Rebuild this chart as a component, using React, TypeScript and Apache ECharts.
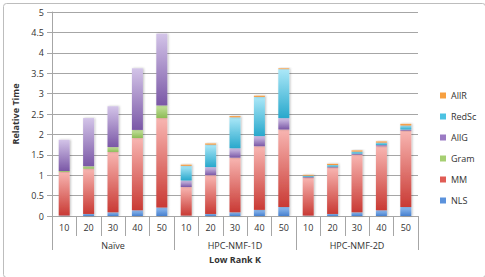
import React, { useEffect, useRef } from "react";
import * as echarts from "echarts";

const categories = ["10", "20", "30", "40", "50", "10", "20", "30", "40", "50", "10", "20", "30", "40", "50"];
const groups = ["Naïve", "HPC-NMF-1D", "HPC-NMF-2D"];
const yTicks = [0, 0.5, 1, 1.5, 2, 2.5, 3, 3.5, 4, 4.5, 5];

const nls = [0.01, 0.05, 0.09, 0.14, 0.21, 0.01, 0.05, 0.09, 0.15, 0.22, 0.01, 0.05, 0.09, 0.14, 0.22];
const mm = [1.07, 1.11, 1.48, 1.77, 2.19, 0.7, 0.95, 1.34, 1.56, 1.9, 0.93, 1.14, 1.41, 1.57, 1.87];
const gram = [0.02, 0.06, 0.12, 0.2, 0.31, 0, 0, 0, 0, 0, 0, 0, 0, 0, 0];
const allG = [0.77, 1.18, 1.0, 1.51, 1.76, 0.16, 0.2, 0.23, 0.25, 0.28, 0.02, 0.02, 0.03, 0.03, 0.03];
const redSc = [0, 0, 0, 0, 0, 0.36, 0.55, 0.76, 0.96, 1.2, 0.03, 0.04, 0.05, 0.06, 0.1];
const allR = [0, 0, 0, 0, 0, 0.03, 0.03, 0.03, 0.03, 0.02, 0.02, 0.03, 0.03, 0.03, 0.04];

const FONT = "Open Sans";
const TXT = "#333333";
const AXIS = "#a6a6a6";

const seriesDefs = [
  { name: "NLS", data: nls, top: "#93bdf0", bottom: "#4680cf", solid: "#5b92dc" },
  { name: "MM", data: mm, top: "#f8b6b2", bottom: "#c93a34", solid: "#e05c55" },
  { name: "Gram", data: gram, top: "#c6e29e", bottom: "#8cbb55", solid: "#a6cf72" },
  { name: "AllG", data: allG, top: "#d3c4e8", bottom: "#7a57a6", solid: "#9b7bc4" },
  { name: "RedSc", data: redSc, top: "#ace8f8", bottom: "#28a8cc", solid: "#4cc2e2" },
  { name: "AllR", data: allR, top: "#fbb060", bottom: "#f08a2a", solid: "#f7a040" },
];

export default function App() {
  const ref = useRef<HTMLDivElement>(null);
  useEffect(() => {
    if (!ref.current) return;
    const chart = echarts.init(ref.current, null, { renderer: "svg" });
    chart.setOption({
      animation: false,
      backgroundColor: "#ffffff",
      textStyle: { fontFamily: FONT },
      grid: { left: 52, right: 67, top: 12, bottom: 61, containLabel: false },
      legend: {
        orient: "vertical",
        left: 435,
        top: 86,
        itemWidth: 6,
        itemHeight: 6,
        itemGap: 12,
        icon: "rect",
        textStyle: { fontSize: 9, color: TXT, fontFamily: FONT },
        data: [...seriesDefs].reverse().map((s) => ({ name: s.name, itemStyle: { color: s.solid } })),
      },
      xAxis: [
        {
          type: "category",
          data: categories,
          position: "bottom",
          axisLine: { lineStyle: { color: AXIS, width: 1 } },
          axisTick: { show: true, interval: 0, length: 20, lineStyle: { color: AXIS } },
          axisLabel: { interval: 0, margin: 7, fontSize: 9, color: TXT, fontFamily: FONT },
          splitLine: { show: false },
        },
        {
          type: "category",
          data: groups,
          position: "bottom",
          offset: 0,
          axisLine: { show: false },
          axisTick: { show: true, interval: 0, length: 34, lineStyle: { color: AXIS } },
          axisLabel: { interval: 0, margin: 25, fontSize: 9, color: TXT, fontFamily: FONT },
          splitLine: { show: false },
        },
      ],
      yAxis: {
        type: "value",
        min: yTicks[0],
        max: yTicks[yTicks.length - 1],
        interval: 0.5,
        name: "Relative Time",
        nameLocation: "middle",
        nameGap: 30,
        nameTextStyle: { fontSize: 9, fontWeight: "bold", color: TXT, fontFamily: FONT },
        axisLine: { show: true, lineStyle: { color: AXIS } },
        axisTick: { show: true, length: 5, lineStyle: { color: AXIS } },
        axisLabel: { margin: 8, fontSize: 9, color: TXT, fontFamily: FONT },
        splitLine: { show: true, lineStyle: { color: AXIS, width: 1 } },
      },
      graphic: [
        {
          type: "rect",
          left: 1,
          top: 1,
          shape: { width: 482, height: 274, r: 3 },
          style: { fill: "none", stroke: "#bdbdbd", lineWidth: 1 },
          silent: true,
        },
        {
          type: "text",
          x: 235,
          y: 259,
          style: {
            text: "Low Rank K",
            fontSize: 9,
            fontWeight: "bold",
            fill: TXT,
            fontFamily: FONT,
            align: "center",
            verticalAlign: "middle",
          },
        },
      ],
      series: seriesDefs.map((s) => ({
        name: s.name,
        type: "bar",
        stack: "total",
        xAxisIndex: 0,
        barWidth: 11,
        data: s.data,
        itemStyle: {
          color: new echarts.graphic.LinearGradient(0, 0, 0, 1, [
            { offset: 0, color: s.top },
            { offset: 1, color: s.bottom },
          ]),
          shadowColor: "rgba(0,0,0,0.25)",
          shadowBlur: 2,
          shadowOffsetX: 1,
          shadowOffsetY: 0,
        },
      })),
    });
    return () => chart.dispose();
  }, []);
  return (
    <div
      ref={ref}
      style={{ position: "absolute", left: 0, top: 0, width: 485, height: 277 }}
    />
  );
}
